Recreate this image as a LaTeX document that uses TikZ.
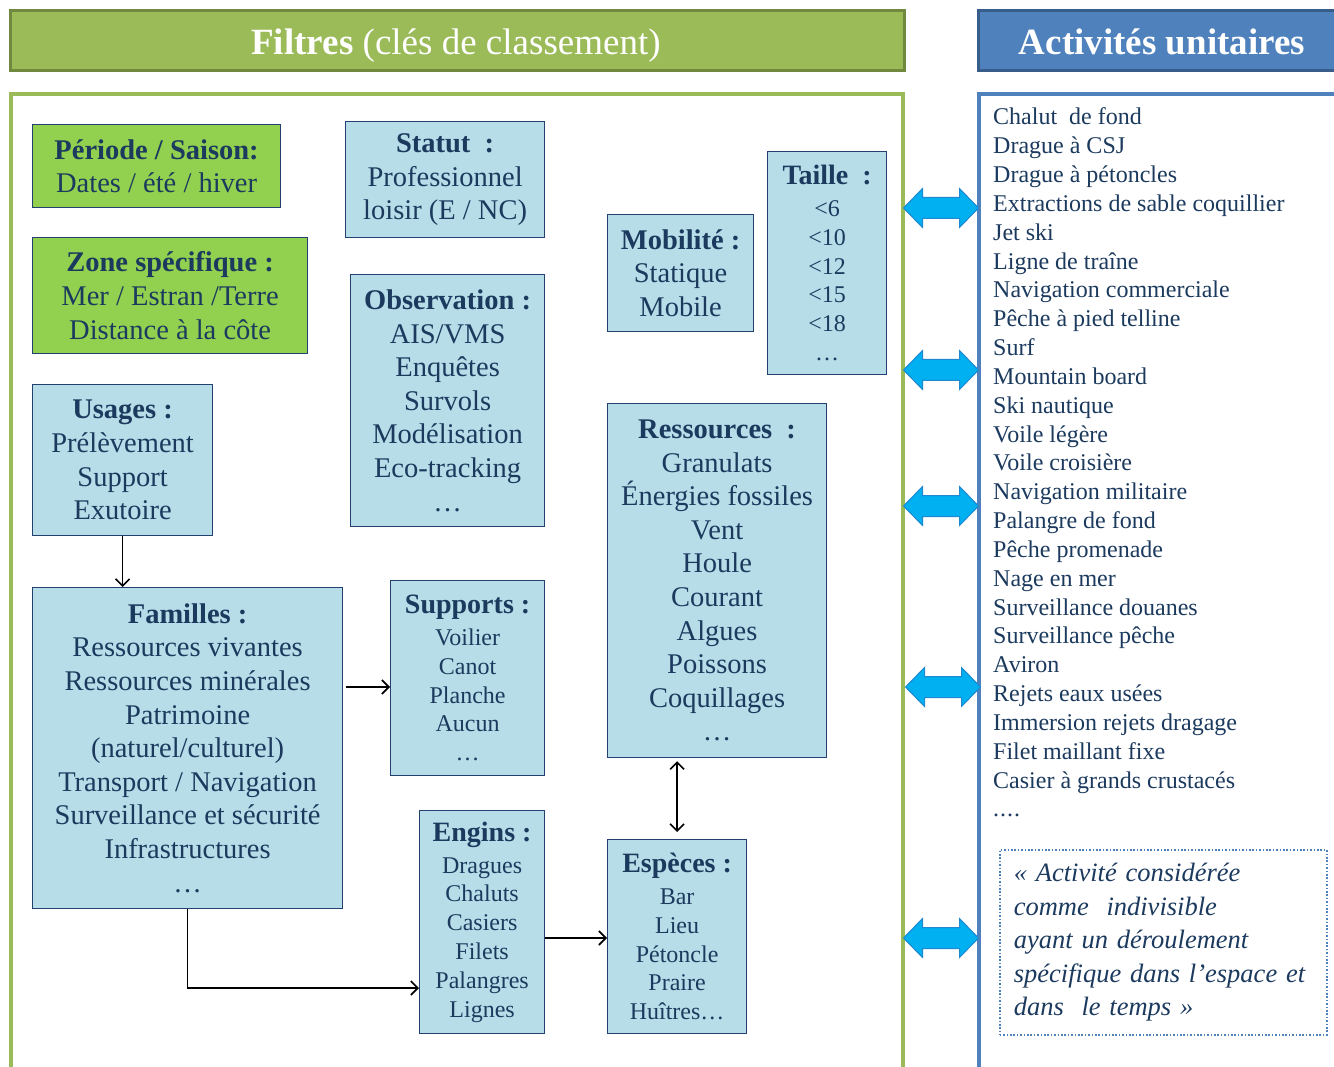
\documentclass[tikz,border=0pt]{standalone}
\usepackage{fontspec}
\setmainfont{Liberation Serif}
\usetikzlibrary{arrows.meta,calc}
\definecolor{headgreen}{HTML}{9BBB59}
\definecolor{headgreenline}{HTML}{71893F}
\definecolor{headblue}{HTML}{4F81BD}
\definecolor{headblueline}{HTML}{385D8A}
\definecolor{boxgreen}{HTML}{92D050}
\definecolor{boxblue}{HTML}{B7DDE8}
\definecolor{boxline}{HTML}{24406E}
\definecolor{navy}{HTML}{1B3A5E}
\definecolor{arrowfill}{HTML}{00B0F0}
\definecolor{arrowline}{HTML}{1E88D0}
\tikzset{
  bbox/.style={draw=boxline, fill=boxblue, line width=1.2pt, text=navy, align=center,
    inner sep=0pt, anchor=north west, font=\fontsize{28.5}{33.6}\selectfont},
  gbox/.style={bbox, fill=boxgreen},
  sbox/.style={bbox, font=\fontsize{24}{28.8}\selectfont},
  conn/.style={draw=black, line width=1.6pt, -{Straight Barb[length=7pt,width=14pt,line width=1.6pt]}},
  act/.style={anchor=base west, inner sep=0pt, text=navy, font=\fontsize{24}{28.8}\selectfont},
  dblarrow/.pic={\filldraw[fill=arrowfill, draw=arrowline, line width=1pt]
    (-37.5,0) -- (-18.5,-19.5) -- (-18.5,-10.5) -- (18.5,-10.5) -- (18.5,-19.5) -- (37.5,0)
    -- (18.5,19.5) -- (18.5,10.5) -- (-18.5,10.5) -- (-18.5,19.5) -- cycle;}
}
\newcommand{\ttl}[1]{{\fontsize{28}{28.8}\selectfont\bfseries #1}}
\begin{document}
\begin{tikzpicture}[x=1pt,y=-1pt]
\useasboundingbox (0,0) rectangle (1334,1067);
\fill[white] (0,0) rectangle (1334,1067);
% headers
\node[draw=headgreenline, fill=headgreen, line width=3pt, minimum width=894pt, minimum height=60pt] (hfiltres) at (457,41) {};
\node[text=white, font=\fontsize{37}{40}\selectfont, anchor=base] (hfiltrestext) at (456,55) {\textbf{Filtres} (clés de classement)};
\node[draw=headblueline, fill=headblue, line width=3pt, minimum width=362pt, minimum height=60pt,
  inner sep=0pt] (hact) at (1159,41) {};
\node[text=white, font=\fontsize{37}{40}\selectfont\bfseries, anchor=base] (hacttext) at (1162,55) {Activités unitaires};
% panels
\draw[headgreen, line width=3.5pt] (11,1080) -- (11,94) -- (903,94) -- (903,1080);
\draw[headblue, line width=3.5pt] (979,1080) -- (979,94) -- (1340,94);
% boxes
\node[gbox, minimum width=248pt, minimum height=83pt] (periode) at (32,124)
  {\textbf{Période / Saison:}\\Dates / été / hiver};
\node[gbox, minimum width=275pt, minimum height=116pt] (zone) at (32,237)
  {\textbf{Zone spécifique :}\\Mer / Estran /Terre\\Distance à la côte};
\node[bbox, minimum width=199pt, minimum height=116pt] (statut) at (345,121)
  {\textbf{Statut~~:}\\Professionnel\\loisir (E / NC)};
\node[bbox, minimum width=194pt, minimum height=252pt] (obs) at (350,274)
  {\textbf{Observation :}\\AIS/VMS\\Enquêtes\\Survols\\Modélisation\\Eco-tracking\\…};
\node[bbox, minimum width=180pt, minimum height=151pt] (usages) at (32,384)
  {\textbf{Usages :}\\Prélèvement\\Support\\Exutoire};
\node[bbox, minimum width=146pt, minimum height=117pt] (mobilite) at (607,214)
  {\textbf{Mobilité :}\\Statique\\Mobile};
\node[sbox, minimum width=119pt, minimum height=223pt] (taille) at (767,151)
  {\ttl{Taille~~:}\\[3pt]\textless6\\\textless10\\\textless12\\\textless15\\\textless18\\…};
\node[bbox, minimum width=219pt, minimum height=354pt] (ressources) at (607,403)
  {\textbf{Ressources~~:}\\Granulats\\Énergies fossiles\\Vent\\Houle\\Courant\\Algues\\Poissons\\Coquillages\\…};
\node[bbox, minimum width=310pt, minimum height=321pt] (familles) at (32,587)
  {\textbf{Familles :}\\Ressources vivantes\\Ressources minérales\\Patrimoine\\(naturel/culturel)\\Transport / Navigation\\Surveillance et sécurité\\Infrastructures\\…};
\node[sbox, minimum width=154pt, minimum height=195pt] (supports) at (390,580)
  {\ttl{Supports :}\\[3pt]Voilier\\Canot\\Planche\\Aucun\\…};
\node[sbox, minimum width=125pt, minimum height=223pt] (engins) at (419,810)
  {\ttl{Engins :}\\[3pt]Dragues\\Chaluts\\Casiers\\Filets\\Palangres\\Lignes};
\node[sbox, minimum width=139pt, minimum height=194pt] (especes) at (607,839)
  {\ttl{Espèces :}\\[3pt]Bar\\Lieu\\Pétoncle\\Praire\\Huîtres…};
% connectors
\draw[conn] (usages.south) -- (usages.south |- familles.north);
\coordinate (fs) at ($(familles.north east)+(3,100)$);
\draw[conn] (fs) -- (supports.west |- fs);
\coordinate (fe) at ($(engins.north west)+(0,178)$);
\draw[conn] (familles.south) |- (fe);
\coordinate (ee) at ($(engins.north east)+(0,128)$);
\draw[conn] (ee) -- (especes.west |- ee);
\coordinate (rtop) at ($(especes.north |- ressources.south)+(0,3)$);
\coordinate (ebot) at ($(especes.north)+(0,-7)$);
\draw[conn, {Straight Barb[length=7pt,width=14pt,line width=1.6pt]}-{Straight Barb[length=7pt,width=14pt,line width=1.6pt]}] (rtop) -- (ebot);
% big double arrows
\pic at (941,208) {dblarrow};
\pic at (941,370) {dblarrow};
\pic at (941,506) {dblarrow};
\pic at (943,687) {dblarrow};
\pic at (941,938) {dblarrow};
% activities list
\foreach \t [count=\i] in {Chalut~~de fond, Drague à CSJ, Drague à pétoncles, Extractions de sable coquillier,
  Jet ski, Ligne de traîne, Navigation commerciale, Pêche à pied telline, Surf, Mountain board,
  Ski nautique, Voile légère, Voile croisière, Navigation militaire, Palangre de fond, Pêche promenade,
  Nage en mer, Surveillance douanes, Surveillance pêche, Aviron, Rejets eaux usées,
  Immersion rejets dragage, Filet maillant fixe, Casier à grands crustacés}
  \node[act] (act\i) at (993,{125+28.83*(\i-1)}) {\t};
\node[act] (act25) at (993,{125+28.83*24}) {.\kern1pt.\kern1pt.\kern1pt.};
% quote
\node[draw=headblue, line width=1.6pt, dash pattern=on 1.6pt off 1.8pt, anchor=north west,
  minimum width=327pt, minimum height=185pt, inner xsep=14pt, text width=299pt, align=left,
  text=navy, font=\fontsize{26.5}{33.5}\selectfont\itshape] (quote) at (999,849)
  {« Activité considérée\\comme~~indivisible\\ayant un déroulement\\spécifique dans l’espace et\\dans~~le temps »};
\end{tikzpicture}
\end{document}
